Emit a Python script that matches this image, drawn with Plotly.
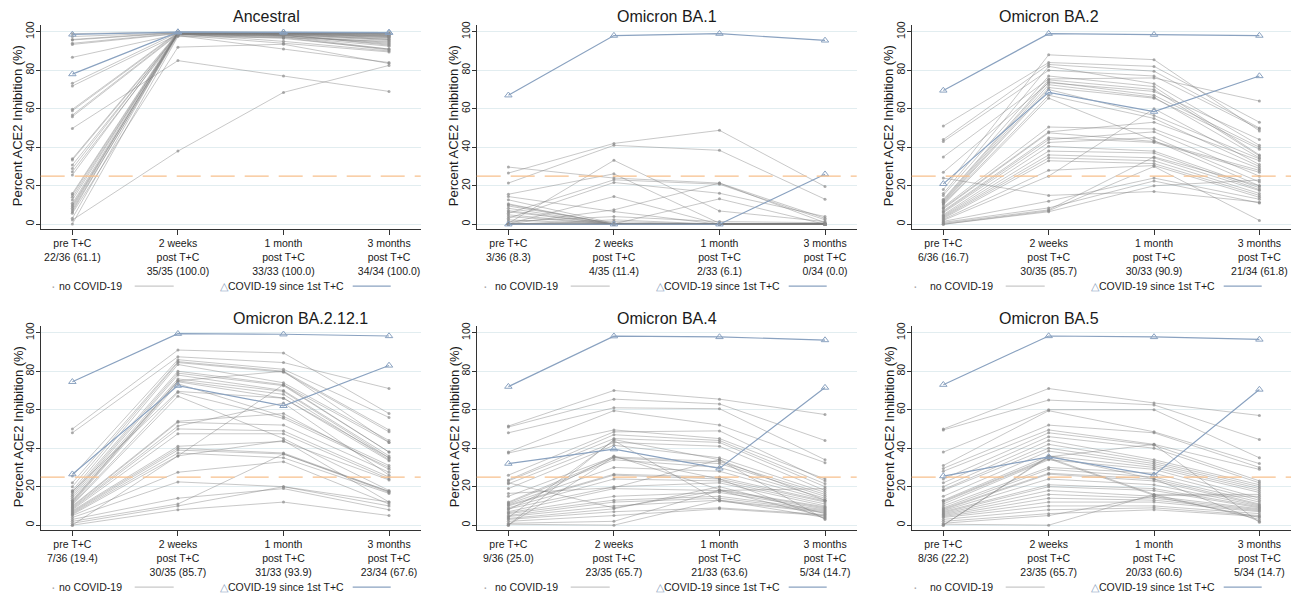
import plotly.graph_objects as go

# ---------------- DATA ----------------
timepoints = ["pre T+C", "2 weeks<br>post T+C", "1 month<br>post T+C", "3 months<br>post T+C"]
panel_titles = ["Ancestral", "Omicron BA.1", "Omicron BA.2",
                "Omicron BA.2.12.1", "Omicron BA.4", "Omicron BA.5"]
y_title = "Percent ACE2 Inhibition (%)"
legend_labels = ["no COVID-19", "COVID-19 since 1st T+C"]
# responders n/N (%) per timepoint
responder_text = [
    ["22/36 (61.1)", "35/35 (100.0)", "33/33 (100.0)", "34/34 (100.0)"],
    ["3/36 (8.3)", "4/35 (11.4)", "2/33 (6.1)", "0/34 (0.0)"],
    ["6/36 (16.7)", "30/35 (85.7)", "30/33 (90.9)", "21/34 (61.8)"],
    ["7/36 (19.4)", "30/35 (85.7)", "31/33 (93.9)", "23/34 (67.6)"],
    ["9/36 (25.0)", "23/35 (65.7)", "21/33 (63.6)", "5/34 (14.7)"],
    ["8/36 (22.2)", "23/35 (65.7)", "20/33 (60.6)", "5/34 (14.7)"],
]
threshold = 25

# participants without COVID-19: [pre, 2wk, 1mo, 3mo]
ancestral_nocovid = [
    [99, 99.8, 99.7, 99.5], [97.5, 99.5, 99.5, 99], [96, 99.6, 99.2, 98.5], [95.7, 99.4, 99, 97.5],
    [94, 99.2, 98.5, 96], [93.4, 99.0, 98, 93.5], [86.7, 98.8, 97.5, 91], [73.2, 99.5, 99.5, 98],
    [71.8, 98.5, 97, 95], [59.7, 99.7, 99.6, 99.2], [59, 99.3, 98.8, 97], [56.7, 99.0, 95, 90],
    [55.9, 98.6, 98, 94], [49.8, 85, 77, 69], [34, 99.6, 99.4, 99], [33.4, 99.1, 98.5, 96.5],
    [30.8, 98.7, 97.5, 92.5], [29, 99.5, 99.3, 98.5], [27.3, 98.2, 94, 89.5], [25.6, 99.4, 99, 97.5],
    [16, 99.7, 99.5, 99.3], [15.2, 99.2, 98.7, 96], [14, 98.9, 98, 94.5], [12.6, 99.6, 99.4, 98.8],
    [10.9, 99.3, 99, 97.8], [10, 98.5, 96.5, 91], [9.2, 99.0, 98.2, 95.5], [8.3, 99.5, 99.2, 98],
    [7.4, 98.0, 91, 84], [6.5, 99.1, 98.5, 93], [5.7, 92, 93.5, 83.5], [3.1, 99.3, 98.9, 97],
    [2.2, 38, 68.5, 82.5], [0.2, 97.5, 97, 90.5],
]
ba1_nocovid = [
    [29.7, 24, 21.4, 3.1], [26.6, 42, 48.8, 19.6], [21.4, 41, 38.4, 13], [15.6, 26.2, 0.5, 0],
    [14.4, 6.6, 0, 0], [12.7, 0.5, 0, 0], [10.6, 0, 0, 0.5], [10.2, 0, 0.3, 0],
    [9.5, 0.3, 0, 0], [8.3, 0, 0, 0], [7.1, 0, 0, 0.3], [6.5, 0, 0, 0],
    [5.7, 23.1, 20.8, 2.3], [4.9, 0, 0, 0], [4, 0, 0, 0], [3.1, 21.7, 16.1, 4],
    [2.3, 0, 0, 0], [1.4, 4, 1.4, 0.8], [0.5, 33.2, 6.9, 1.4], [0.3, 14.4, 0, 0],
    [0.2, 7.5, 21.4, 0.8], [0.1, 0.2, 13.2, 0], [0, 2.3, 0, 0], [0, 1.4, 0, 0],
    [0, 0, 0, 0], [0, 0, 0, 0], [0, 0, 0, 0], [0, 0, 0, 0],
    [0, 0, 0, 0], [0, 0, 0, 0], [0, 0, 0, 0], [0, 0, 0, 0],
    [0, 0, 0, 0], [0, 0, 0, 0],
]
ba2_nocovid = [
    [51, 84, 82, 53], [44, 83, 79.5, 50], [43, 80, 77, 49.5], [35, 75.5, 76, 64],
    [27, 73.5, 69, 44], [24, 15, 17, 11.5], [18, 88, 85.5, 48.5], [16, 82, 73, 41],
    [15, 77, 71.5, 36], [13, 75, 70, 35.5], [12.5, 74, 67, 40], [12, 72.5, 66, 34.5],
    [11.5, 71, 65.5, 39], [11, 70, 56.5, 34], [10.5, 67, 55, 30], [10, 65.5, 43.5, 20],
    [9, 50.5, 49.5, 29], [8.5, 48, 53, 33], [8, 47.5, 43, 28], [7, 45, 42.5, 27],
    [6.5, 44, 48, 25], [6, 42.5, 45, 22], [5, 40.5, 38, 19], [4.5, 38, 37, 18],
    [4, 36, 34.5, 17.5], [3.5, 34.5, 33, 16], [3, 33, 31.5, 15], [2.5, 28, 30.5, 14],
    [2, 25, 60, 31], [1.5, 12, 24, 13], [1, 8.5, 22.5, 11], [0.5, 7.5, 35, 20],
    [0, 7, 30, 2], [0, 6.5, 20, 23],
]
ba2121_nocovid = [
    [50, 91, 89.5, 58], [48, 87.5, 84.5, 71], [25.5, 86, 81, 56], [22, 85, 80, 49.5],
    [20, 84.5, 79.5, 48.5], [18, 83.5, 74, 44], [17, 80, 73, 43], [16, 79, 72.5, 38],
    [15, 78, 70, 36], [14, 76, 69.5, 35], [13, 75, 68, 34], [12, 74.5, 66, 33.5],
    [11.5, 73.5, 56.5, 31], [11, 69, 55.5, 30], [10.5, 67, 45, 18], [10, 54, 58, 29],
    [9.5, 53.5, 52, 27.5], [9, 51.5, 63.5, 26], [8.5, 50, 49, 25], [8, 47.5, 47.5, 24],
    [7.5, 41, 43.5, 23.5], [7, 40, 37.5, 17.5], [6.5, 39, 37, 17], [6, 37.5, 35, 16.5],
    [5.5, 36, 44, 12], [5, 27.5, 33, 11], [4, 22.5, 20, 10], [3, 14, 19, 8],
    [2, 11, 37, 17.5], [1, 10, 20, 12], [0, 8, 12, 5], [0, 36, 73, 38],
    [12.5, 75, 80, 43], [17.5, 69.5, 66, 35],
]
ba4_nocovid = [
    [51.5, 70, 65.5, 57.5], [51, 65.5, 63, 44], [48, 61, 60.5, 34], [38, 59.5, 52, 32.5],
    [37.5, 49.5, 45, 24], [26, 48.5, 49, 23], [23.5, 47, 44, 21.5], [23, 45, 43, 20],
    [22, 9, 18, 19], [21.5, 43, 41, 18], [19, 41.5, 35, 17], [16.5, 19.5, 34, 13],
    [15, 35.5, 33, 16], [12, 35, 32, 15], [11.5, 34, 30, 14], [11, 30, 28, 13],
    [10.5, 26.5, 25, 12.5], [10, 26, 24, 12], [9, 24, 23, 11], [8.5, 20, 22, 10],
    [8, 36, 18.5, 9.5], [7, 19, 18, 9], [6.5, 15, 17, 8.5], [6, 13, 15, 8],
    [5, 12, 14, 7.5], [4.5, 10, 13, 7], [4, 44, 12.5, 6.5], [3.5, 8.5, 20, 6],
    [3, 7, 9, 5.5], [2, 5, 8.5, 5], [1, 2, 18, 4.5], [0.5, 0, 13, 4],
    [0, 35.5, 24, 3.5], [0, 44.5, 34, 3],
]
ba5_nocovid = [
    [50, 71, 63.5, 57], [49.5, 65, 62.5, 44.5], [38, 60, 60, 35], [31, 59.5, 48.5, 32],
    [29.5, 52, 48, 30], [28, 49.5, 42, 29], [24, 48, 41.5, 23], [22, 46, 40, 22],
    [20, 44, 34, 21], [18.5, 42, 33, 20], [18, 40, 32, 19], [15, 38.5, 31, 18],
    [13, 36, 30, 17], [12.5, 35, 16, 16], [12, 34.5, 15.5, 15], [11, 34, 29, 14],
    [10, 30, 27, 13], [9, 29, 25, 12], [8.5, 27, 24, 11], [8, 26.5, 23, 10.5],
    [7.5, 24, 21, 10], [7, 21, 19, 9.5], [6.5, 20, 18, 9], [6, 18, 15, 8.5],
    [5.5, 16, 14, 8], [5, 14, 13, 7.5], [4.5, 12, 12, 7], [4, 10, 10, 6],
    [3, 8, 9, 5], [2, 6, 8, 4.5], [1, 5, 15, 4], [0.5, 0, 16, 3],
    [0, 36, 24, 2], [0, 35.5, 42, 1.5],
]
# participants with COVID-19 since 1st T+C: [pre, 2wk, 1mo, 3mo]
ancestral_covid = [[98.6, 99.8, 99.7, 99.5], [78, 99.8, 99.7, 99.6]]
ba1_covid = [[67, 98, 99, 95.5], [0, 0, 0, 26]]
ba2_covid = [[69.5, 99, 98.5, 98], [21, 68.5, 58.5, 77]]
ba2121_covid = [[74.5, 99.5, 99.2, 98.3], [26.5, 72.5, 62, 83]]
ba4_covid = [[72, 98.2, 97.8, 96.2], [32, 39.5, 29.5, 71.5]]
ba5_covid = [[73, 98.3, 97.8, 96.5], [25.5, 35.5, 26, 70.5]]

nocovid_sets = [ancestral_nocovid, ba1_nocovid, ba2_nocovid, ba2121_nocovid, ba4_nocovid, ba5_nocovid]
covid_sets = [ancestral_covid, ba1_covid, ba2_covid, ba2121_covid, ba4_covid, ba5_covid]

# ---------------- STYLE / LAYOUT ----------------
W, H = 1293, 598
GRAY_LINE = "rgba(125,125,125,0.42)"
GRAY_DOT = "rgba(140,140,140,0.7)"
BLUE = "#8aa2c0"
FONT = "Liberation Sans, Arial, sans-serif"
TXT = "#1a1a1a"

col_px = [(40.7, 420.7), (476.7, 856.7), (911.7, 1291.0)]
row_px = [(25.0, 228.7), (326.0, 529.6)]

fig = go.Figure()
x_idx = [0, 1, 2, 3]

for p in range(6):
    r, c = divmod(p, 3)
    ax = "" if p == 0 else str(p + 1)
    xref, yref = "x" + ax, "y" + ax
    for row in nocovid_sets[p]:
        fig.add_trace(go.Scatter(
            x=x_idx, y=row, mode="lines+markers", xaxis=xref, yaxis=yref,
            line=dict(color=GRAY_LINE, width=1),
            marker=dict(color=GRAY_DOT, size=3, symbol="circle"),
            showlegend=False, hoverinfo="skip"))
    for row in covid_sets[p]:
        fig.add_trace(go.Scatter(
            x=x_idx, y=row, mode="lines+markers", xaxis=xref, yaxis=yref,
            line=dict(color=BLUE, width=1.2),
            marker=dict(color=BLUE, size=6.5, symbol="triangle-up-open", line=dict(width=1)),
            showlegend=False, hoverinfo="skip"))

    x0, x1 = col_px[c]
    y0, y1 = row_px[r]
    ticktext = [t + "<br>" + n for t, n in zip(timepoints, responder_text[p])]
    fig.layout["xaxis" + ax] = dict(
        domain=[x0 / W, x1 / W], anchor=yref, range=[-0.3, 3.3], automargin=False,
        tickvals=x_idx, ticktext=ticktext, ticks="outside", ticklen=5, tickcolor="#333",
        showline=True, linecolor="#333", linewidth=1, showgrid=False, zeroline=False,
        tickfont=dict(family=FONT, size=10.5, color=TXT), fixedrange=True)
    fig.layout["yaxis" + ax] = dict(
        domain=[1 - y1 / H, 1 - y0 / H], anchor=xref, range=[-2.3, 103.5], automargin=False,
        tickvals=[0, 20, 40, 60, 80, 100], tickangle=-90, ticks="outside", ticklen=4,
        tickcolor="#333", showline=True, linecolor="#333", linewidth=1,
        showgrid=True, gridcolor="#e2edf0", gridwidth=1, zeroline=False,
        tickfont=dict(family=FONT, size=10.5, color=TXT), ticklabelstandoff=-2,
        fixedrange=True)

    # y-axis title
    fig.add_annotation(text=y_title, xref="paper", yref="paper", x=(x0 - 22.5) / W,
                       y=1 - (y0 + 101) / H, textangle=-90, showarrow=False,
                       xanchor="center", yanchor="middle",
                       font=dict(family=FONT, size=13, color=TXT))

    # threshold line
    fig.add_shape(type="line", xref=xref + " domain", yref=yref, x0=0, x1=1,
                  y0=threshold, y1=threshold,
                  line=dict(color="#f7c08c", width=1.3, dash="24px,10px"), layer="above")

    # panel title
    fig.add_annotation(text=panel_titles[p], xref="paper", yref="paper",
                       x=(x0 + x1) / 2 / W, y=1 - (y0 - 8) / H, showarrow=False,
                       font=dict(family=FONT, size=16, color=TXT), yanchor="middle")

    # legend (Stata-style: symbol, label, line key)
    ly = 1 - (y1 + 57.5) / H
    fig.add_annotation(text="\u00b7", xref="paper", yref="paper", x=(x0 + 8.5) / W, y=ly,
                       showarrow=False, yanchor="middle",
                       font=dict(family=FONT, size=14, color="#aaaaaa"))
    fig.add_annotation(text=legend_labels[0], xref="paper", yref="paper", x=(x0 + 16) / W, y=ly,
                       xanchor="left", yanchor="middle", showarrow=False,
                       font=dict(family=FONT, size=10.5, color=TXT))
    fig.add_shape(type="line", xref="paper", yref="paper", x0=(x0 + 94) / W, x1=(x0 + 133) / W,
                  y0=ly, y1=ly, line=dict(color="#c8c8c8", width=1.2))
    fig.add_annotation(text="<span style='color:%s'>\u25b3</span>%s" % (BLUE, legend_labels[1]),
                       xref="paper", yref="paper", x=(x0 + 177) / W, y=ly,
                       xanchor="left", yanchor="middle", showarrow=False,
                       font=dict(family=FONT, size=10.5, color=TXT))
    fig.add_shape(type="line", xref="paper", yref="paper", x0=(x0 + 312) / W, x1=(x0 + 350) / W,
                  y0=ly, y1=ly, line=dict(color=BLUE, width=1.2))

fig.update_layout(width=W, height=H, margin=dict(l=0, r=0, t=0, b=0, autoexpand=False),
                  paper_bgcolor="white", plot_bgcolor="white", showlegend=False,
                  template="none", font=dict(family=FONT, color=TXT))

# remove the browser's default 8px body margin so the figure sits at the window origin
fig.write_html("out.html", config={"displayModeBar": False},
               post_script="document.body.style.margin='0px';")
